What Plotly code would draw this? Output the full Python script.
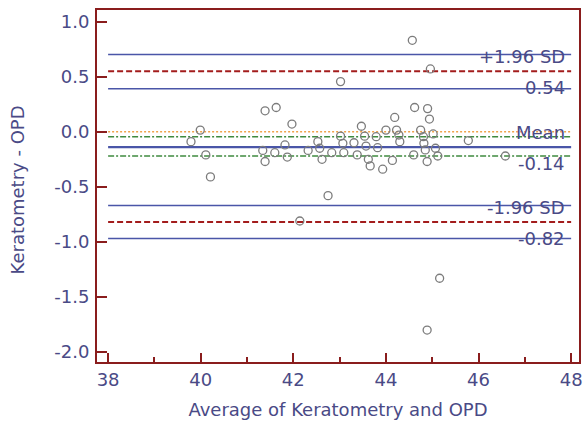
import plotly.graph_objects as go

# ---- data ----
avg_values = [39.79, 39.99, 40.11, 40.21, 41.39, 41.63, 41.97, 41.34, 41.39, 41.60,
              41.82, 41.87, 42.32, 42.53, 42.57, 42.62, 42.75, 42.14, 43.02, 42.83,
              43.02, 43.07, 43.09, 43.31, 43.38, 43.47, 43.54, 43.57, 43.62, 43.66,
              43.79, 43.82, 43.93, 44.00, 44.14, 44.19, 44.23, 44.28, 44.30, 44.60,
              44.62, 44.75, 44.81, 44.82, 44.85, 44.89, 44.90, 44.94, 45.02, 45.07,
              45.12, 44.57, 44.96, 45.78, 46.58, 45.16, 44.89]
diff_values = [-0.09, 0.015, -0.21, -0.41, 0.19, 0.22, 0.07, -0.17, -0.27, -0.19,
               -0.12, -0.23, -0.17, -0.09, -0.15, -0.25, -0.58, -0.81, 0.455, -0.19,
               -0.04, -0.105, -0.19, -0.10, -0.21, 0.05, -0.04, -0.13, -0.25, -0.31,
               -0.045, -0.145, -0.34, 0.015, -0.26, 0.13, 0.015, -0.03, -0.09, -0.21,
               0.22, 0.015, -0.045, -0.105, -0.165, -0.27, 0.21, 0.115, -0.02, -0.15,
               -0.22, 0.83, 0.57, -0.08, -0.22, -1.33, -1.80]

line_x = [38, 48]
zero_line = 0.0
mean_diff = -0.14
mean_ci = [-0.045, -0.22]
upper_loa = 0.55
upper_loa_ci = [0.70, 0.39]
lower_loa = -0.82
lower_loa_ci = [-0.67, -0.97]

label_above = ["+1.96 SD", "Mean", "-1.96 SD"]
label_below = ["0.54", "-0.14", "-0.82"]
label_levels = [upper_loa, mean_diff, lower_loa]

x_ticks = [38, 40, 42, 44, 46, 48]
y_ticks = [1.0, 0.5, 0.0, -0.5, -1.0, -1.5, -2.0]

x_title = "Average of Keratometry and OPD"
y_title = "Keratometry - OPD"

# ---- styles ----
frame_col = "#8a1d1d"
text_col = "#4a4a86"
blue = "#4a56a8"
red = "#a31c1c"
green = "#3f8a3f"
orange = "#efa24a"
font_family = "DejaVu Sans"

fig = go.Figure()

def hline(y, color, width, dash):
    fig.add_trace(go.Scatter(x=line_x, y=[y, y], mode="lines",
                             line=dict(color=color, width=width, dash=dash),
                             hoverinfo="skip", showlegend=False))

hline(zero_line, orange, 1.6, "2px,2px")
for v in mean_ci:
    hline(v, green, 1.5, "6px,2px,2px,2px")
for v in upper_loa_ci + lower_loa_ci:
    hline(v, blue, 1.5, "solid")
hline(mean_diff, blue, 2.2, "solid")
hline(upper_loa, red, 2, "6px,3px")
hline(lower_loa, red, 2, "6px,3px")

fig.add_trace(go.Scatter(x=avg_values, y=diff_values, mode="markers",
                         marker=dict(symbol="circle-open", size=8,
                                     color="#7c7c7c", line=dict(width=1.3)),
                         showlegend=False))

for txt_a, txt_b, lvl in zip(label_above, label_below, label_levels):
    fig.add_annotation(x=line_x[1], y=lvl, xref="x", yref="y", text=txt_a,
                       showarrow=False, xanchor="right", yanchor="middle",
                       xshift=-4, yshift=15,
                       font=dict(family=font_family, size=18, color=text_col))
    fig.add_annotation(x=line_x[1], y=lvl, xref="x", yref="y", text=txt_b,
                       showarrow=False, xanchor="right", yanchor="middle",
                       xshift=-4, yshift=-16,
                       font=dict(family=font_family, size=18, color=text_col))

# y-axis title as a rotated annotation for exact placement
fig.add_annotation(x=-0.164, y=0.49, xref="paper", yref="paper", text=y_title,
                   textangle=-90, showarrow=False, xanchor="center", yanchor="middle",
                   font=dict(family=font_family, size=18, color=text_col))

fig.update_layout(
    width=587, height=422,
    margin=dict(l=97, r=4, t=10, b=60),
    paper_bgcolor="white", plot_bgcolor="white",
    font=dict(family=font_family, size=18, color=text_col),
)
fig.update_xaxes(
    range=[37.76, 48.17], tickvals=x_ticks, ticktext=[str(t) for t in x_ticks],
    ticks="inside", ticklen=9, tickwidth=2, tickcolor=frame_col,
    minor=dict(dtick=1, tick0=39, ticks="inside", ticklen=5, tickwidth=1.5, tickcolor=frame_col),
    showline=True, linecolor=frame_col, linewidth=2, mirror=True,
    showgrid=False, zeroline=False,
    tickfont=dict(family=font_family, size=18, color=text_col),
    title=dict(text=x_title, font=dict(family=font_family, size=18, color=text_col)),
)
fig.update_yaxes(
    range=[-2.09, 1.105], tickvals=y_ticks, ticktext=[f"{t:.1f}" for t in y_ticks],
    ticks="inside", ticklen=10, tickwidth=2, tickcolor=frame_col,
    showline=True, linecolor=frame_col, linewidth=2, mirror=True,
    showgrid=False, zeroline=False, ticklabelstandoff=2,
    tickfont=dict(family=font_family, size=18, color=text_col),
)

fig.write_html("out.html")
